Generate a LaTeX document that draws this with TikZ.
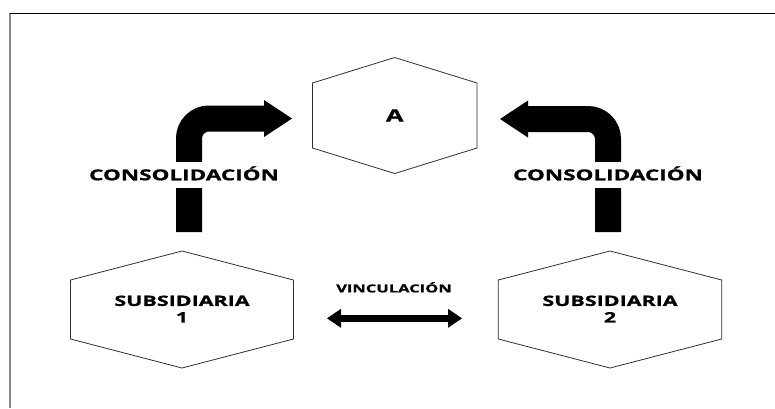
\documentclass[tikz,border=0pt]{standalone}
\usepackage{fontspec}
\newfontfamily\widesans[FakeStretch=1.5, BoldFeatures={FakeBold=1}]{Open Sans}
\usetikzlibrary{arrows.meta}
\definecolor{framegray}{HTML}{8C8C8C}
\definecolor{hexgray}{HTML}{303030}

\begin{document}
\begin{tikzpicture}[
    x=1pt, y=-1pt,
    lbl/.style={font=\widesans\bfseries\fontsize{14.3}{16.5}\selectfont,
                align=center, inner sep=0pt},
    hexline/.style={draw=hexgray, line width=0.8pt, line join=miter},
    blockarr/.style={line width=26pt, rounded corners=20pt,
                     -{Triangle[width=37pt, length=28pt, line width=0pt]}},
    linkarr/.style={line width=7.5pt,
                    {Triangle[width=19pt, length=14pt, line width=0pt]}-{Triangle[width=19pt, length=14pt, line width=0pt]}},
    gap/.style={lbl, font=\widesans\bfseries\fontsize{15}{18}\selectfont,
                fill=white, inner xsep=3pt, text height=10.5pt,
                text depth=0pt, minimum height=26.5pt}
  ]
    \useasboundingbox (0,0) rectangle (775,408);
    % frame
    \draw[framegray, line width=1.6pt] (9.7,13.3) -- (9.7,408);
    \draw[black, line width=1.3pt] (9.7,13.3) -- (775,13.3);

    % entities
    \node[lbl, font=\widesans\bfseries\fontsize{17}{20}\selectfont] (a) at (394.7,115.5) {A};
    \node[lbl] (sub1) at (182,309) {SUBSIDIARIA\\1};
    \node[lbl] (sub2) at (610,309) {SUBSIDIARIA\\2};
    \draw[hexline] (a.center) ++(0,-58) -- ++(82.3,25.5) -- ++(0,65)
        -- ++(-82.3,25.5) -- ++(-82.3,-25.5) -- ++(0,-65) -- cycle;
    \draw[hexline] (sub1.center) ++(0,-58) -- ++(111.5,29) -- ++(0,59)
        -- ++(-111.5,29) -- ++(-111.5,-29) -- ++(0,-59) -- cycle;
    \draw[hexline] (sub2.center) ++(0,-58) -- ++(111.7,29) -- ++(0,59)
        -- ++(-111.7,29) -- ++(-111.7,-29) -- ++(0,-59) -- cycle;

    % consolidation arrows
    \coordinate (cons1s) at (189,232);
    \coordinate (cons1e) at (292,118.5);
    \coordinate (cons2s) at (608,232);
    \coordinate (cons2e) at (500,119);
    \draw[blockarr] (cons1s) |- (cons1e);
    \draw[blockarr] (cons2s) |- (cons2e);
    \node[gap] (cons1) at (184,175) {CONSOLIDACIÓN};
    \node[gap] (cons2) at (608,175) {CONSOLIDACIÓN};

    % link between subsidiaries
    \coordinate (link1) at (327,318.3);
    \coordinate (link2) at (462,318.3);
    \draw[linkarr] (link1) -- (link2);
    \node[lbl, font=\widesans\bfseries\fontsize{11}{13}\selectfont] (link) at (394,287.3) {VINCULACIÓN};
  \end{tikzpicture}
\end{document}
